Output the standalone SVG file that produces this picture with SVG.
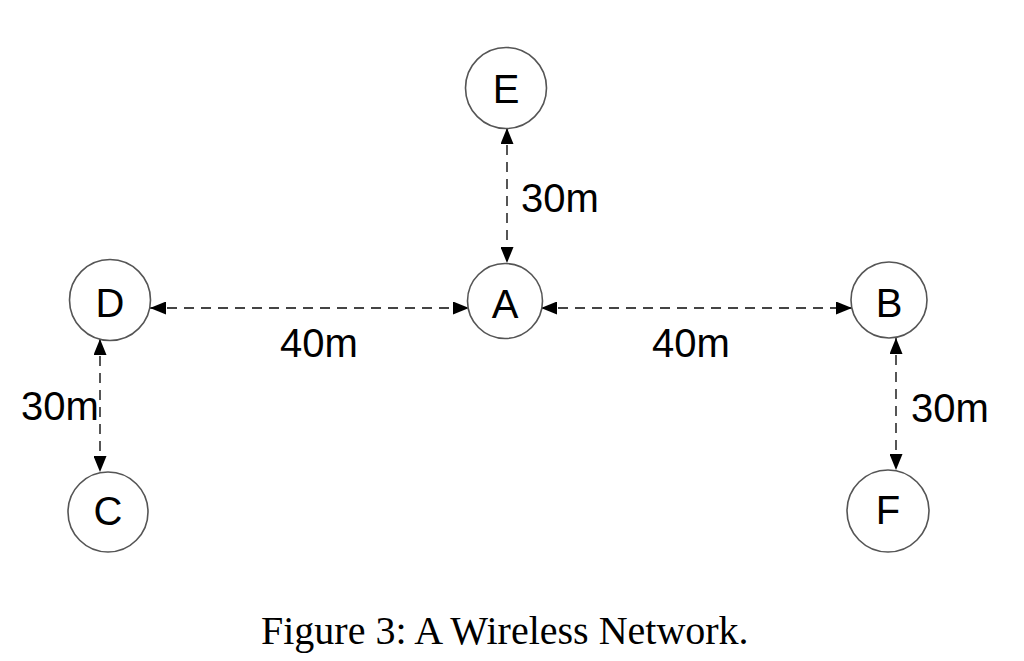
<svg xmlns="http://www.w3.org/2000/svg" width="1024" height="661" viewBox="0 0 1024 661">
<style>
.node circle{fill:#fff;stroke:#555;stroke-width:1.6}
.node text{font-family:"Liberation Sans",Arial,sans-serif;font-size:40px;fill:#000;text-anchor:middle}
.edge{stroke:#444;stroke-width:1.8;stroke-dasharray:10 7;fill:none;marker-start:url(#ah);marker-end:url(#ah)}
.lbl{font-family:"Liberation Sans",Arial,sans-serif;font-size:40px;fill:#000}
.cap{font-family:"Liberation Serif","Times New Roman",serif;font-size:40px;fill:#000}
</style>
<defs>
<marker id="ah" markerUnits="userSpaceOnUse" markerWidth="16" markerHeight="13" viewBox="0 0 16 13" refX="16" refY="6.5" orient="auto-start-reverse">
<path d="M0,0 L16,6.5 L0,13 z" fill="#000"/>
</marker>
</defs>
<rect width="1024" height="661" fill="#fff"/>
<g id="connectors">
<line class="edge" x1="507" y1="128" x2="507" y2="263"/>
<line class="edge" x1="150" y1="308" x2="469" y2="308"/>
<line class="edge" x1="541" y1="308" x2="852" y2="308"/>
<line class="edge" x1="100" y1="339" x2="100" y2="472"/>
<line class="edge" x1="896" y1="338" x2="896" y2="470"/>
<text class="lbl" x="521" y="212">30m</text>
<text class="lbl" x="280" y="357">40m</text>
<text class="lbl" x="652" y="357">40m</text>
<text class="lbl" x="21" y="420">30m</text>
<text class="lbl" x="911" y="422">30m</text>
</g>
<g id="node-E" class="node"><circle cx="506" cy="88" r="40.5"/><text x="506" y="103">E</text></g>
<g id="node-A" class="node"><circle cx="505" cy="301" r="37.5"/><text x="505" y="318">A</text></g>
<g id="node-D" class="node"><circle cx="110" cy="300" r="40.5"/><text x="110" y="317">D</text></g>
<g id="node-B" class="node"><circle cx="889" cy="300" r="38"/><text x="889" y="317">B</text></g>
<g id="node-C" class="node"><circle cx="108" cy="512" r="40"/><text x="108" y="525">C</text></g>
<g id="node-F" class="node"><circle cx="888" cy="511" r="41"/><text x="888" y="524">F</text></g>
<text class="cap" x="261" y="644">Figure 3: A Wireless Network.</text>
</svg>
